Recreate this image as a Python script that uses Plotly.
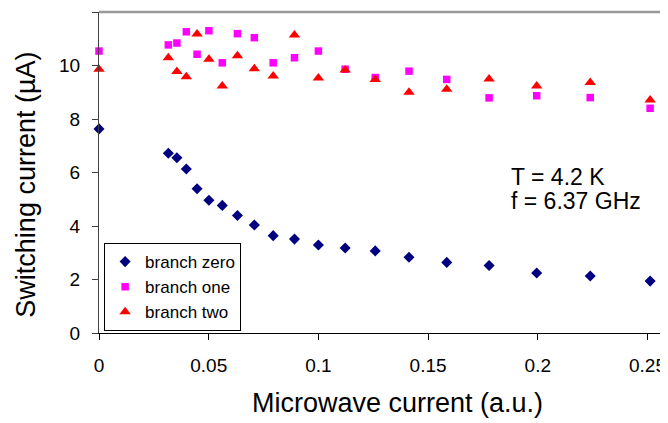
import plotly.graph_objects as go

# Microwave current (a.u.)
x_vals = [0, 0.0316, 0.0355, 0.0398, 0.0447, 0.0501, 0.0562, 0.0631, 0.0708,
          0.0794, 0.0891, 0.1, 0.1122, 0.1259, 0.1413, 0.1585, 0.1778, 0.1995,
          0.2239, 0.2512]

# Switching current (uA)
branch_zero = [7.63, 6.72, 6.55, 6.13, 5.39, 4.96, 4.77, 4.39, 4.04, 3.64,
               3.51, 3.29, 3.18, 3.07, 2.83, 2.64, 2.52, 2.24, 2.13, 1.94]
branch_one = [10.54, 10.77, 10.84, 11.26, 10.42, 11.30, 10.10, 11.19, 11.04, 10.10,
              10.29, 10.54, 9.86, 9.55, 9.79, 9.48, 8.79, 8.87, 8.80, 8.40]
branch_two = [9.86, 10.29, 9.78, 9.58, 11.18, 10.23, 9.23, 10.36, 9.88, 9.61,
              11.14, 9.53, 9.83, 9.48, 9.00, 9.11, 9.50, 9.23, 9.36, 8.71]

series_names = ["branch zero", "branch one", "branch two"]
x_ticks = [0, 0.05, 0.1, 0.15, 0.2, 0.25]
x_tick_text = ["0", "0.05", "0.1", "0.15", "0.2", "0.25"]
y_ticks = [0, 2, 4, 6, 8, 10, 12]

FONT = "Arial, Liberation Sans, sans-serif"
X_RANGE = [0, 569 / 2194]

fig = go.Figure()
styles = [
    dict(symbol="diamond", size=8.5, color="#000080"),
    dict(symbol="square", size=7.5, color="#FF00FF"),
    dict(symbol="triangle-up", size=10, color="#FF0000"),
]
for name, ys, st in zip(series_names, [branch_zero, branch_one, branch_two], styles):
    fig.add_trace(go.Scatter(
        x=x_vals, y=ys, mode="markers", name=name, legendgroup=name,
        marker=dict(symbol=st["symbol"], size=st["size"], color=st["color"],
                    line=dict(width=0)),
        cliponaxis=False,
    ))

# page body has an 8px default margin: figure is offset to fit the 668x423 window
fig.update_layout(
    width=660, height=415,
    margin=dict(l=91, r=0, t=4, b=90, pad=0),
    paper_bgcolor="white", plot_bgcolor="white",
    font=dict(family=FONT, size=19, color="black"),
    showlegend=True,
    legend=dict(
        x=0.009, xanchor="left", y=0.006, yanchor="bottom",
        bgcolor="white", bordercolor="black", borderwidth=1,
        font=dict(family=FONT, size=17, color="black"),
        tracegroupgap=0, itemwidth=30,
    ),
    xaxis=dict(
        range=X_RANGE, tickvals=x_ticks, ticktext=x_tick_text,
        showgrid=False, zeroline=False, showline=True, linecolor="black",
        linewidth=1, ticks="outside", ticklen=6, tickcolor="black",
        tickfont=dict(family=FONT, size=19, color="black"),
        ticklabelstandoff=9,
    ),
    yaxis=dict(
        range=[0, 12], tickvals=y_ticks,
        showgrid=False, zeroline=False, showline=True, linecolor="#404040",
        linewidth=1, ticks="outside", ticklen=6, tickcolor="#404040",
        tickfont=dict(family=FONT, size=19, color="black"),
        ticklabelstandoff=8,
    ),
    shapes=[dict(type="line", xref="paper", yref="paper", x0=0, x1=1, y0=1, y1=1,
                 layer="above", line=dict(color="#999999", width=2.5))],
    annotations=[
        dict(text="Microwave current (a.u.)", xref="paper", yref="paper",
             x=0.5252, y=-0.217, xanchor="center", yanchor="middle",
             showarrow=False, font=dict(family=FONT, size=27, color="black")),
        dict(text="Switching current (\u00b5A)", xref="paper", yref="paper",
             x=-0.1298, y=0.4626, xanchor="center", yanchor="middle", textangle=-90,
             showarrow=False, font=dict(family=FONT, size=27, color="black")),
        dict(text="T = 4.2 K", xref="paper", yref="paper",
             x=0.7200, y=0.4847, xanchor="left", yanchor="middle",
             showarrow=False, font=dict(family=FONT, size=23, color="black")),
        dict(text="f = 6.37 GHz", xref="paper", yref="paper",
             x=0.7200, y=0.411, xanchor="left", yanchor="middle",
             showarrow=False, font=dict(family=FONT, size=23, color="black")),
    ],
)

fig.write_html("out.html")
